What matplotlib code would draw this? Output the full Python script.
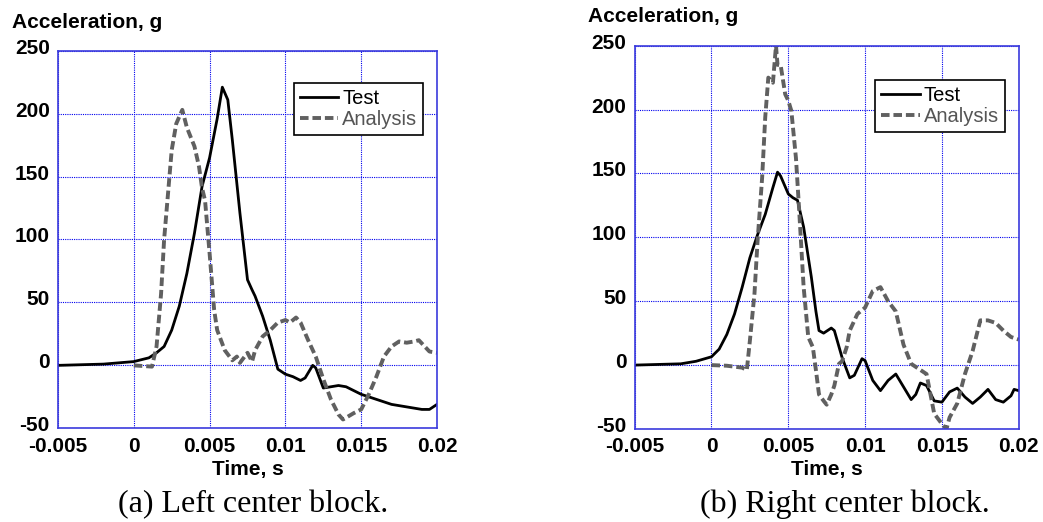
import matplotlib
matplotlib.use("Agg")
import matplotlib.pyplot as plt
import matplotlib.transforms as mtransforms

# Left center block
left_test_t = [-0.005, -0.002, 0.0, 0.001, 0.0015, 0.002, 0.0025, 0.003, 0.0035, 0.004,
               0.0045, 0.005, 0.0055, 0.00584, 0.0062, 0.0065, 0.007, 0.0075, 0.0078, 0.008,
               0.0085, 0.009, 0.0095, 0.01, 0.0105, 0.011, 0.0113, 0.0118, 0.012, 0.0125,
               0.013, 0.0135, 0.014, 0.015, 0.0155, 0.016, 0.017, 0.018, 0.019, 0.0195, 0.02]
left_test_g = [0, 1, 3, 6, 10, 15, 28, 47, 73, 105,
               142, 165, 196, 221, 211, 179, 121, 68, 60, 55,
               39, 20, -3, -7, -9, -12, -10, 0, -2, -18,
               -17, -16, -17, -23, -25, -27, -31, -33, -35, -35, -31]

left_ana_t = [0.0, 0.0012, 0.0015, 0.0018, 0.002, 0.0025, 0.0028, 0.0032, 0.0035, 0.004,
              0.0043, 0.0045, 0.0047, 0.005, 0.0053, 0.0055, 0.006, 0.0065, 0.0068, 0.007,
              0.0075, 0.0078, 0.008, 0.0085, 0.009, 0.0095, 0.01, 0.0103, 0.0107, 0.011,
              0.0115, 0.012, 0.0125, 0.013, 0.0135, 0.0138, 0.0145, 0.015, 0.0155, 0.016,
              0.0165, 0.017, 0.0175, 0.018, 0.0185, 0.0188, 0.0195, 0.02]
left_ana_g = [0, -1, 15, 57, 100, 171, 192, 203, 189, 174,
              158, 141, 131, 89, 44, 28, 12, 4, 7, 2,
              10, 3, 12, 23, 28, 34, 36, 34, 38, 34,
              20, 7, -11, -27, -39, -43, -38, -35, -23, -9,
              7, 15, 19, 18, 19, 20, 11, 10]

# Right center block
right_test_t = [-0.005, -0.002, -0.001, 0.0, 0.0005, 0.001, 0.0015, 0.002, 0.0025, 0.003,
                0.0035, 0.004, 0.0043, 0.0045, 0.005, 0.0053, 0.0056, 0.006, 0.0065, 0.0068,
                0.007, 0.0073, 0.0078, 0.008, 0.0085, 0.009, 0.0093, 0.0098, 0.01, 0.0105,
                0.011, 0.0115, 0.012, 0.0125, 0.013, 0.0133, 0.0136, 0.014, 0.0145, 0.015,
                0.0155, 0.016, 0.0165, 0.017, 0.0175, 0.018, 0.0185, 0.019, 0.0195, 0.0197, 0.02]
right_test_g = [0, 1, 3, 6.5, 12.5, 24, 40, 61, 84, 102,
                118, 139, 151, 148, 134, 131, 129, 108, 69, 42,
                27, 25, 29, 27, 6, -10, -8, 5, 3.5, -12,
                -20, -12, -7, -17, -27, -23, -14, -16, -28, -29,
                -21, -18, -25, -30, -25, -19, -27, -29, -24, -19, -20]

right_ana_t = [0.0, 0.001, 0.002, 0.0023, 0.0025, 0.0028, 0.003, 0.0033, 0.0035, 0.0037,
               0.004, 0.0042, 0.0043, 0.0045, 0.0048, 0.005, 0.0052, 0.0055, 0.0057, 0.006,
               0.0063, 0.0066, 0.0068, 0.007, 0.0073, 0.0075, 0.0078, 0.008, 0.0083, 0.0085,
               0.0088, 0.009, 0.0095, 0.01, 0.0105, 0.011, 0.0115, 0.012, 0.0125, 0.013,
               0.0135, 0.014, 0.0145, 0.015, 0.0153, 0.0155, 0.016, 0.0165, 0.017, 0.0175,
               0.018, 0.0185, 0.019, 0.0195, 0.02]
right_ana_g = [0, -0.5, -2, -4, 19, 56, 97, 147, 194, 225,
               221, 250, 235, 235, 212, 207, 199, 162, 123, 61,
               22, 14, -4, -23, -28, -31, -23, -16, 1, 3,
               14, 27, 40, 45, 58, 61, 50, 42, 16, 1,
               -3, -7, -38, -46, -50, -41, -30, -7, 11, 35,
               35, 33, 27, 22, 20]

x_ticks = [-0.005, 0, 0.005, 0.01, 0.015, 0.02]
x_labels = ["-0.005", "0", "0.005", "0.01", "0.015", "0.02"]
y_ticks = [-50, 0, 50, 100, 150, 200, 250]

plt.rcParams['font.family'] = ['Liberation Sans', 'DejaVu Sans']
plt.rcParams['axes.unicode_minus'] = False

fig = plt.figure(figsize=(10.43, 5.22), dpi=100)
ax1 = fig.add_axes([0.0556, 0.1795, 0.3634, 0.7234])
ax2 = fig.add_axes([0.6085, 0.1782, 0.3682, 0.7343])

panels = [
    (ax1, left_test_t, left_test_g, left_ana_t, left_ana_g, 0.9145),
    (ax2, right_test_t, right_test_g, right_ana_t, right_ana_g, 0.9105),
]

# y tick labels sit a few pixels above their grid lines in the reference
lift = mtransforms.ScaledTranslation(0, 0.045, fig.dpi_scale_trans)

for ax, tt, tg, at, ag, leg_top in panels:
    ax.plot(tt, tg, color='black', linewidth=2.0, label='Test')
    ax.plot(at, ag, color='#606060', linewidth=2.8, linestyle=(0, (2.2, 1.0)), label='Analysis')
    ax.set_xlim(-0.005, 0.02)
    ax.set_ylim(-50, 250)
    ax.set_xticks(x_ticks)
    ax.set_xticklabels(x_labels)
    ax.set_yticks(y_ticks)
    ax.grid(True, color='#0000ee', linestyle=(0, (1, 1)), linewidth=0.8)
    for sp in ax.spines.values():
        sp.set_color('#3b3bdd')
        sp.set_linewidth(1.2)
    ax.tick_params(direction='in', length=0, labelsize=15, pad=6)
    for lab in ax.get_xticklabels() + ax.get_yticklabels():
        lab.set_fontweight('bold')
    for lab in ax.get_yticklabels():
        lab.set_transform(lab.get_transform() + lift)
    ax.set_xlabel("Time, s", fontsize=15, fontweight='bold', labelpad=3)
    leg = ax.legend(loc='upper right', bbox_to_anchor=(0.964, leg_top), fontsize=14.5,
                    fancybox=False, edgecolor='black', framealpha=1,
                    handlelength=1.9, handletextpad=0.2, borderpad=0.3,
                    labelspacing=0.1, borderaxespad=0)
    leg.get_frame().set_linewidth(1.2)
    leg.get_texts()[1].set_color('#555555')

fig.text(12 / 1043, 1 - 28 / 522, "Acceleration, g", fontsize=15, fontweight='bold', va='baseline')
fig.text(588 / 1043, 1 - 22 / 522, "Acceleration, g", fontsize=15, fontweight='bold', va='baseline')

fig.text(253 / 1043, 1 - 512 / 522, "(a) Left center block.", fontsize=23,
         family='Liberation Serif', ha='center', va='baseline')
fig.text(845 / 1043, 1 - 512 / 522, "(b) Right center block.", fontsize=23,
         family='Liberation Serif', ha='center', va='baseline')

fig.savefig("out.png", dpi=100)
